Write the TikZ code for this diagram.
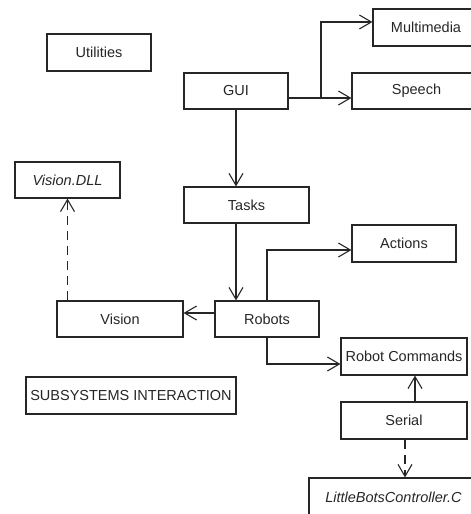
\documentclass[tikz,border=0pt]{standalone}
\usepackage{fontspec}
\setmainfont{Liberation Sans}
\usetikzlibrary{arrows.meta,calc}
\definecolor{ink}{HTML}{262626}
\tikzset{
  box/.style={draw=ink, line width=1.1pt, text=ink, inner sep=0pt, minimum height=36pt,
    font=\fontsize{14.5}{16}\selectfont},
  arr/.style={draw=ink, line width=1.1pt, -{Straight Barb[length=12pt,width=14pt,line width=1.1pt]}},
  darr/.style={arr, dash pattern=on 9pt off 6pt},
}
\begin{document}
\begin{tikzpicture}[x=1pt,y=-1pt]
\useasboundingbox (0,0) rectangle (471,514);
\clip (0,0) rectangle (471,514);
\node[box, minimum width=104pt, minimum height=37pt] (utilities) at (99,52.5) {Utilities};
\node[box, minimum width=104pt] (gui) at (236,91) {GUI};
\node[box, minimum width=106pt, minimum height=37pt] (multimedia) at (426,27.5) {Multimedia};
\node[box, minimum width=129pt] (speech) at (416.5,91) {Speech};
\node[box, minimum width=105pt] (visiondll) at (67.5,180) {\itshape Vision.DLL};
\node[box, minimum width=125pt] (tasks) at (246.5,205) {Tasks};
\node[box, minimum width=104pt, minimum height=37pt] (actions) at (404,243.5) {Actions};
\node[box, minimum width=126pt] (vision) at (120,319) {Vision};
\node[box, minimum width=104pt] (robots) at (267,319) {Robots};
\node[box, minimum width=210pt, minimum height=37pt] (subsys) at (131,395.5) {SUBSYSTEMS INTERACTION};
\node[box, minimum width=126pt, minimum height=37pt] (robotcmd) at (404,356.5) {Robot Commands};
\node[box, minimum width=126pt, minimum height=37pt] (serial) at (404,420.5) {Serial};
\node[box, minimum width=169pt, minimum height=38pt] (little) at (393.5,497) {\itshape LittleBotsController.C};

\coordinate (br) at (321,98);
\draw[arr] ($(gui.east)+(0,7)$) -- ($(speech.west)+(0,7)$);
\draw[arr] (br) |- ($(multimedia.west)+(0,-5.5)$);
\draw[arr] (gui.south) -- (gui.south |- tasks.north);
\draw[arr] (gui.south |- tasks.south) -- (gui.south |- robots.north);
\draw[arr] ($(robots.west)+(0,-6)$) -- ($(vision.east)+(0,-6)$);
\draw[arr] (robots.north) |- ($(actions.west)+(0,6.5)$);
\draw[arr] (robots.south) |- ($(robotcmd.west)+(0,7.5)$);
\draw[arr] ($(serial.north)+(11,0)$) -- ($(robotcmd.south)+(11,0)$);
\draw[darr] ($(serial.south)+(1,0)$) -- ($(little.north)+(11.5,0)$);
\draw[darr] (vision.north -| visiondll.south) -- (visiondll.south);
\end{tikzpicture}
\end{document}
